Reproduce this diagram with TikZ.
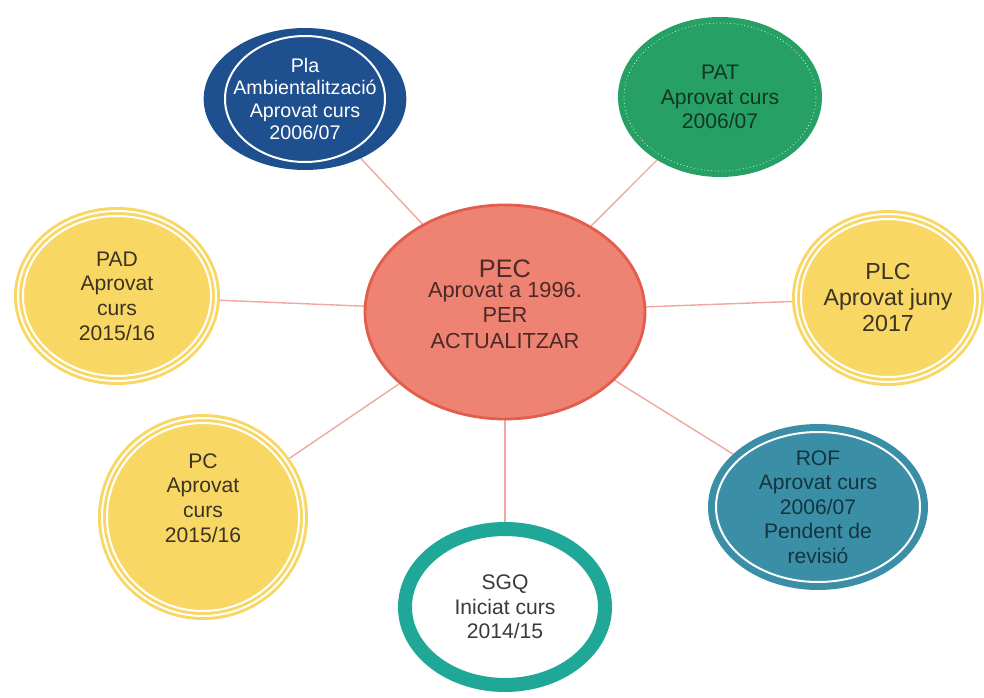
\documentclass[tikz,border=0pt]{standalone}
\usepackage{fontspec}
\setmainfont{Liberation Sans}
\usetikzlibrary{shapes.geometric,backgrounds}

\definecolor{pecfill}{HTML}{EF8373}
\definecolor{pecline}{HTML}{E35D4D}
\definecolor{pectext}{HTML}{4A2A26}
\definecolor{plablue}{HTML}{1E4F8F}
\definecolor{patgreen}{HTML}{26A064}
\definecolor{pattext}{HTML}{12361F}
\definecolor{bubyellow}{HTML}{F8D764}
\definecolor{yellowtext}{HTML}{3B3324}
\definecolor{rofteal}{HTML}{3A8FA6}
\definecolor{roftext}{HTML}{143540}
\definecolor{sgqteal}{HTML}{1FA797}
\definecolor{sgqtext}{HTML}{3A3A3A}
\definecolor{linkred}{HTML}{F2A6A0}

\begin{document}
\begin{tikzpicture}[x=0.25mm,y=0.25mm,
    bubble/.style={ellipse,inner sep=0pt,align=center,font=\fontsize{15}{17.5}\selectfont},
    yellowbub/.style={bubble,fill=bubyellow,text=yellowtext},
    ring/.style={white,line width=0.5mm},
    link/.style={draw=linkred,line width=1pt}]
  \useasboundingbox (0,0) rectangle (984,697);

  % centre
  \node[bubble,fill=pecfill,draw=pecline,line width=2pt,minimum width=70mm,minimum height=53.5mm] (pec) at (505,385) {};
  \node[bubble,text=pectext,font=\fontsize{15.5}{18}\selectfont] (pectxt) at (505,393)
      {{\fontsize{18}{18}\selectfont PEC}\\[-3.5pt]Aprovat a 1996.\\PER\\ACTUALITZAR};

  % upper row
  \node[bubble,fill=plablue,text=white,font=\fontsize{14}{16}\selectfont,minimum width=44mm,minimum height=35.5mm] (pla) at (305,598)
      {Pla\\Ambientalització\\Aprovat curs\\2006/07};
  \draw[ring] (pla.center) ellipse [x radius=80, y radius=63];

  \node[bubble,fill=patgreen,text=pattext,minimum width=51mm,minimum height=40mm] (pat) at (720,600)
      {PAT\\Aprovat curs\\2006/07};
  \draw[white,dotted,line width=0.5pt] (pat.center) ellipse [x radius=96, y radius=74];

  % middle row
  \node[yellowbub,minimum width=51.5mm,minimum height=44.5mm] (pad) at (117,401)
      {PAD\\Aprovat\\curs\\2015/16};
  \draw[ring] (pad.center) ellipse [x radius=99, y radius=85];
  \draw[ring] (pad.center) ellipse [x radius=94, y radius=80];

  \node[yellowbub,font=\fontsize{16.5}{18.5}\selectfont,minimum width=48mm,minimum height=44mm] (plc) at (888,399)
      {PLC\\Aprovat juny\\2017};
  \draw[ring] (plc.center) ellipse [x radius=92, y radius=84];
  \draw[ring] (plc.center) ellipse [x radius=87, y radius=79];

  % lower row
  \node[yellowbub,minimum width=52.5mm,minimum height=51.5mm] (pc) at (203,180) {};
  \draw[ring] (pc.center) ellipse [x radius=101, y radius=99];
  \draw[ring] (pc.center) ellipse [x radius=96, y radius=94];
  \node[bubble,text=yellowtext] (pctxt) at (203,199) {PC\\Aprovat\\curs\\2015/16};

  \node[bubble,fill=rofteal,text=roftext,minimum width=55mm,minimum height=41.5mm] (rof) at (818,190)
      {ROF\\Aprovat curs\\2006/07\\Pendent de\\revisió};
  \draw[ring] (rof.center) ellipse [x radius=102, y radius=75];

  \node[bubble,fill=white,draw=sgqteal,line width=3.5mm,text=sgqtext,minimum width=50mm,minimum height=39mm] (sgq) at (505,90)
      {SGQ\\Iniciat curs\\2014/15};

  % connectors
  \begin{pgfonlayer}{background}
    \draw[link] (pec) -- (pla);
    \draw[link] (pec) -- (pat);
    \draw[link] (pec) -- (pad);
    \draw[link] (pec) -- (plc);
    \draw[link] (pec) -- (pc);
    \draw[link] (pec) -- (rof);
    \draw[link] (pec) -- (sgq);
  \end{pgfonlayer}
\end{tikzpicture}
\end{document}
